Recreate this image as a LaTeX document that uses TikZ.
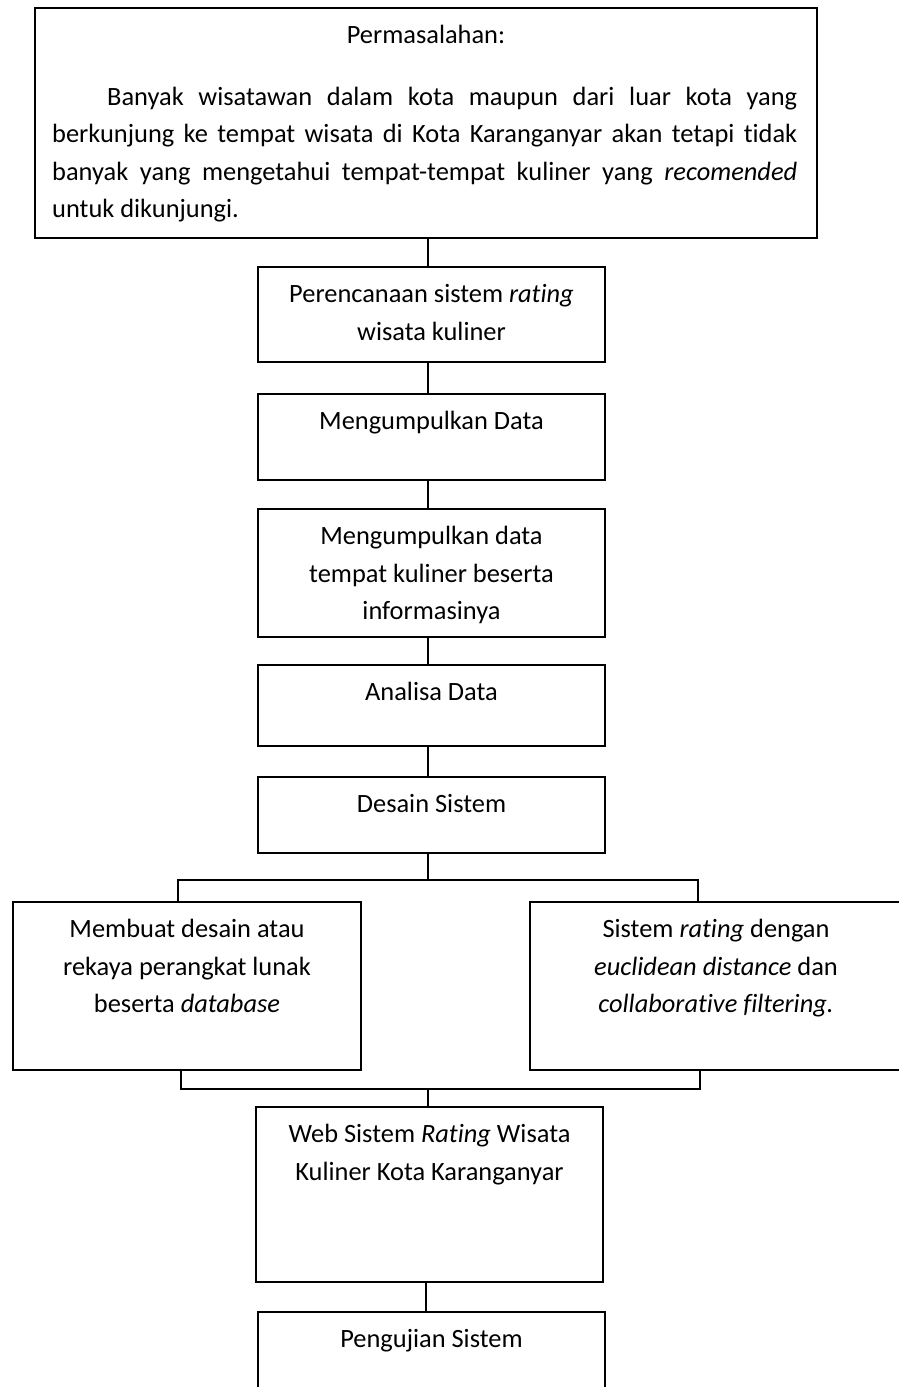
\documentclass[tikz,border=0pt]{standalone}
\usepackage{fontspec}
\setmainfont{Carlito}[Ligatures={NoCommon}]
\usetikzlibrary{positioning,fit}
\tikzset{
    % Box styles
    stage/.style={rectangle, draw, line width=0.9pt, inner sep=0pt},
    problem box/.style={stage, line width=1.2pt},
    % Text styles
    boxtext/.style={inner sep=0pt, align=center, anchor=north,
                    font=\fontsize{13.2}{18.8}\selectfont},
    % Connector styles
    link/.style={line width=0.9pt},
}

\begin{document}
\begin{tikzpicture}[x=0.5pt, y=-0.5pt]
    \useasboundingbox (0,0) rectangle (899,1387);
    \clip (0,0) rectangle (899,1387);

    % Problem statement
    \node[problem box, fit={(35,8) (817,238)}] (problem) {};
    \node[boxtext, yshift=-4.8pt] (problemtitle) at (problem.north) {\strut Permasalahan:};
    \node[boxtext, anchor=north west, align=justify, text width=372.5pt, xshift=9pt, yshift=-35.8pt]
        (problemtext) at (problem.north west) {%
        \hspace*{27.5pt}\strut Banyak wisatawan dalam kota maupun dari luar kota yang\linebreak
        berkunjung ke tempat wisata di Kota Karanganyar akan tetapi tidak\linebreak
        banyak yang mengetahui tempat-tempat kuliner yang \emph{recomended}\linebreak
        untuk dikunjungi.};

    % Main stages
    \node[stage, fit={(258,267) (605,362)}] (plan) {};
    \node[stage, fit={(258,394) (605,480)}] (collect) {};
    \node[stage, fit={(258,509) (605,637)}] (collectinfo) {};
    \node[stage, fit={(258,665) (605,746)}] (analysis) {};
    \node[stage, fit={(258,777) (605,853)}] (design) {};
    \node[stage, fit={(13,902) (361,1070)}] (software) {};
    \node[stage, fit={(530,902) (906,1070)}] (rating) {};
    \node[stage, fit={(256,1107) (603,1282)}] (web) {};
    \node[stage, fit={(258,1312) (605,1420)}] (testing) {};

    % Stage texts
    \node[boxtext, yshift=-4.8pt] (plantext) at (plan.north)
        {\strut Perencanaan sistem \emph{rating}\\ wisata kuliner};
    \node[boxtext, yshift=-4.8pt] (collecttext) at (collect.north)
        {\strut Mengumpulkan Data};
    \node[boxtext, yshift=-4.8pt] (collectinfotext) at (collectinfo.north)
        {\strut Mengumpulkan data\\ tempat kuliner beserta\\ informasinya};
    \node[boxtext, yshift=-4.8pt] (analysistext) at (analysis.north)
        {\strut Analisa Data};
    \node[boxtext, yshift=-4.8pt] (designtext) at (design.north)
        {\strut Desain Sistem};
    \node[boxtext, yshift=-4.8pt] (softwaretext) at (software.north)
        {\strut Membuat desain atau\\ rekaya perangkat lunak\\ beserta \emph{database}};
    \node[boxtext, yshift=-4.8pt, xshift=-1pt] (ratingtext) at (rating.north)
        {\strut Sistem \emph{rating} dengan\\ \emph{euclidean distance} dan\\ \emph{collaborative filtering.}};
    \node[boxtext, yshift=-4.8pt] (webtext) at (web.north)
        {\strut Web Sistem \emph{Rating} Wisata\\ Kuliner Kota Karanganyar};
    \node[boxtext, yshift=-4.8pt] (testingtext) at (testing.north)
        {\strut Pengujian Sistem};

    % Branch points
    \coordinate (splitl) at (178,880);
    \coordinate (splitr) at (698,880);
    \coordinate (joinl) at (181,1089);
    \coordinate (joinr) at (700,1089);

    % Connectors
    \draw[link] (problem.south -| 428,0) -- (plan.north -| 428,0);
    \draw[link] (plan.south -| 428,0) -- (collect.north -| 428,0);
    \draw[link] (collect.south -| 428,0) -- (collectinfo.north -| 428,0);
    \draw[link] (collectinfo.south -| 428,0) -- (analysis.north -| 428,0);
    \draw[link] (analysis.south -| 428,0) -- (design.north -| 428,0);
    \draw[link] (design.south -| 428,0) -- (splitl -| 428,0);
    \draw[link] (software.north -| splitl) -- (splitl) -- (splitr) -- (splitr |- rating.north);
    \draw[link] (software.south -| joinl) -- (joinl) -- (joinr) -- (joinr |- rating.south);
    \draw[link] (joinl -| 428,0) -- (web.north -| 428,0);
    \draw[link] (web.south -| 426,0) -- (testing.north -| 426,0);
\end{tikzpicture}
\end{document}
